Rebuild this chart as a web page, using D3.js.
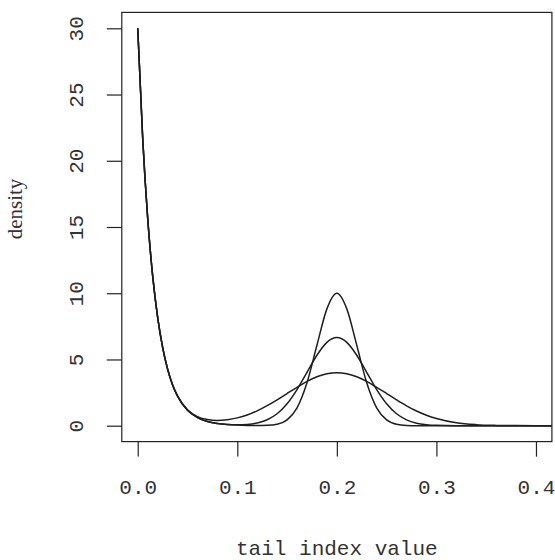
<!DOCTYPE html>
<html>
<head>
<meta charset="utf-8">
<script src="https://d3js.org/d3.v7.min.js"></script>
<style>
body { margin: 0; background: #fff; }
</style>
</head>
<body>
<svg width="555" height="560"></svg>
<script>
var XValues = [0, 0.005, 0.01, 0.015, 0.02, 0.025, 0.03, 0.035, 0.04, 0.05, 0.06, 0.07, 0.08, 0.09,
    0.10, 0.11, 0.12, 0.13, 0.14, 0.15, 0.16, 0.17, 0.18, 0.19, 0.20, 0.21, 0.22, 0.23, 0.24, 0.25,
    0.26, 0.27, 0.28, 0.29, 0.30, 0.32, 0.34, 0.36, 0.38, 0.40, 0.42];

var WideDensity = [30, 21.68, 15.66, 11.31, 8.19, 5.92, 4.28, 3.10, 2.25, 1.20, 0.69, 0.46, 0.39, 0.45,
    0.59, 0.81, 1.12, 1.51, 1.95, 2.43, 2.90, 3.34, 3.69, 3.92, 4.00, 3.92, 3.69, 3.34, 2.90, 2.43,
    1.95, 1.50, 1.11, 0.79, 0.54, 0.22, 0.079, 0.024, 0.006, 0.001, 0];

var MediumDensity = [30, 21.68, 15.66, 11.31, 8.18, 5.91, 4.27, 3.08, 2.23, 1.16, 0.61, 0.32, 0.17, 0.094,
    0.071, 0.097, 0.20, 0.45, 0.90, 1.66, 2.73, 4.03, 5.32, 6.29, 6.65, 6.29, 5.32, 4.03, 2.73, 1.66,
    0.90, 0.44, 0.19, 0.074, 0.026, 0.002, 0, 0, 0, 0, 0];

var NarrowDensity = [30, 21.68, 15.66, 11.31, 8.18, 5.91, 4.27, 3.08, 2.23, 1.16, 0.61, 0.32, 0.17, 0.086,
    0.045, 0.023, 0.012, 0.026, 0.11, 0.44, 1.35, 3.25, 6.07, 8.82, 10.0, 8.82, 6.07, 3.25, 1.35, 0.44,
    0.11, 0.02, 0, 0, 0, 0, 0, 0, 0, 0, 0];

var XTicks = [0, 0.1, 0.2, 0.3, 0.4];
var XTickLabels = ["0.0", "0.1", "0.2", "0.3", "0.4"];
var YTicks = [0, 5, 10, 15, 20, 25, 30];

var svg = d3.select("svg");

var plotLeft = 121.8, plotRight = 551.9, plotTop = 12.4, plotBottom = 441.6;
var tickLength = 15;
var monoFont = "'Liberation Mono', 'DejaVu Sans Mono', monospace";
var textColor = "#333";

var Xscale = d3.scaleLinear().domain([-0.016, 0.416]).range([plotLeft, plotRight]);
var Yscale = d3.scaleLinear().domain([-1.2, 31.2]).range([plotBottom, plotTop]);

//Clip for the curves
svg.append("clipPath")
    .attr("id", "plotArea")
    .append("rect")
    .attr("x", plotLeft)
    .attr("y", plotTop)
    .attr("width", plotRight - plotLeft)
    .attr("height", plotBottom - plotTop);

//Curves
var line = d3.line()
    .x(function(d) { return Xscale(d[0]); })
    .y(function(d) { return Yscale(d[1]); })
    .curve(d3.curveMonotoneX);

[WideDensity, MediumDensity, NarrowDensity].forEach(function(series)
{
    svg.append("path")
        .datum(XValues.map(function(x, i) { return [x, series[i]]; }))
        .attr("clip-path", "url(#plotArea)")
        .attr("fill", "none")
        .attr("stroke", "#1e1e1e")
        .attr("stroke-width", 1.5)
        .attr("d", line);
});

//Box
svg.append("rect")
    .attr("x", plotLeft)
    .attr("y", plotTop)
    .attr("width", plotRight - plotLeft)
    .attr("height", plotBottom - plotTop)
    .attr("fill", "none")
    .attr("stroke", "#222")
    .attr("stroke-width", 1.2);

//XAxis
var xaxis = d3.axisBottom(Xscale)
    .tickValues(XTicks)
    .tickSize(tickLength)
    .tickPadding(22)
    .tickFormat(function(d, i) { return XTickLabels[i]; });
var gx = svg.append("g").attr("transform", "translate(0," + plotBottom + ")").call(xaxis);
gx.select(".domain").remove();
gx.selectAll("line").attr("stroke", "#222").attr("stroke-width", 1.2);
gx.selectAll("text")
    .attr("font-family", monoFont)
    .attr("font-size", 21)
    .attr("fill", textColor);

//YAxis
var yaxis = d3.axisLeft(Yscale)
    .tickValues(YTicks)
    .tickSize(tickLength);
var gy = svg.append("g").attr("transform", "translate(" + plotLeft + ",0)").call(yaxis);
gy.select(".domain").remove();
gy.selectAll("line").attr("stroke", "#222").attr("stroke-width", 1.2);
gy.selectAll("text")
    .attr("x", null)
    .attr("dy", null)
    .attr("transform", "translate(-39,0) rotate(-90)")
    .attr("text-anchor", "middle")
    .attr("font-family", monoFont)
    .attr("font-size", 21)
    .attr("fill", textColor);

//XAxis Label
svg.append("text")
    .attr("x", (plotLeft + plotRight) / 2)
    .attr("y", 555)
    .attr("text-anchor", "middle")
    .attr("font-family", monoFont)
    .attr("font-size", 21)
    .attr("fill", textColor)
    .text("tail index value");

//YAxis Label
svg.append("text")
    .attr("transform", "translate(22,209) rotate(-90)")
    .attr("text-anchor", "middle")
    .attr("font-family", "'Liberation Serif', 'DejaVu Serif', serif")
    .attr("font-size", 21)
    .attr("fill", textColor)
    .text("density");
</script>
</body>
</html>
